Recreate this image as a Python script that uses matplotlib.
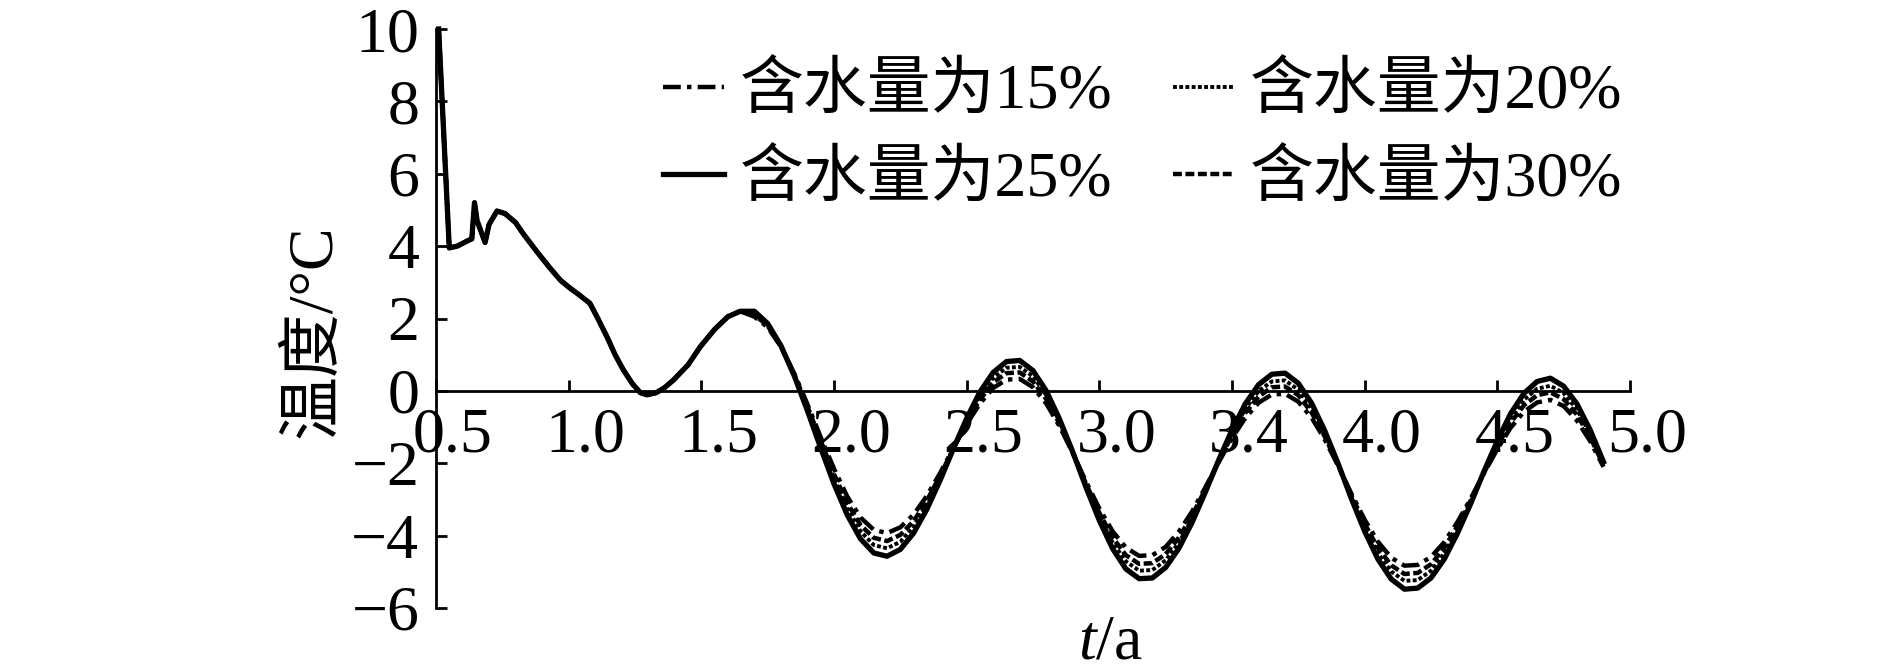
import numpy as np
import matplotlib
matplotlib.use('Agg')
from matplotlib import pyplot as plt
from matplotlib import transforms

plt.rcParams['font.family'] = ['Liberation Serif', 'Noto Sans CJK SC']
plt.rcParams['mathtext.fontset'] = 'custom'
plt.rcParams['mathtext.rm'] = 'Liberation Serif'
plt.rcParams['mathtext.it'] = 'Liberation Serif:italic'

# early part: the four curves coincide
t_early = [0.51, 0.55, 0.58, 0.62, 0.635, 0.645, 0.655, 0.685, 0.70, 0.73, 0.76,
           0.80, 0.83, 0.88, 0.93, 0.97, 1.005, 1.04, 1.08, 1.11, 1.144, 1.175,
           1.206, 1.24, 1.27, 1.295, 1.33, 1.36, 1.395, 1.45, 1.496, 1.55, 1.60, 1.646]
temp_early = [10.0, 3.95, 4.0, 4.15, 4.2, 5.2, 4.7, 4.1, 4.6, 4.97, 4.9,
              4.65, 4.33, 3.85, 3.39, 3.05, 2.84, 2.65, 2.42, 2.0, 1.5, 1.0,
              0.58, 0.2, -0.05, -0.11, -0.05, 0.08, 0.30, 0.72, 1.22, 1.7, 2.05, 2.2]

# later part: the curves separate
t_late = [1.70, 1.75, 1.80, 1.85, 1.90, 1.95, 2.00, 2.05, 2.10, 2.15,
          2.20, 2.25, 2.30, 2.35, 2.40, 2.45, 2.50, 2.55, 2.60, 2.65,
          2.70, 2.75, 2.80, 2.85, 2.90, 2.95, 3.00, 3.05, 3.10, 3.15,
          3.20, 3.25, 3.30, 3.35, 3.40, 3.45, 3.50, 3.55, 3.60, 3.65,
          3.70, 3.75, 3.80, 3.85, 3.90, 3.95, 4.00, 4.05, 4.10, 4.15,
          4.20, 4.25, 4.30, 4.35, 4.40, 4.45, 4.50, 4.55, 4.60, 4.65,
          4.70, 4.75, 4.80, 4.85, 4.90]
temp_15 = [2.05, 1.76, 1.22, 0.48, -0.37, -1.28, -2.15, -2.92, -3.50, -3.84,
           -3.93, -3.77, -3.42, -2.90, -2.27, -1.58, -0.92, -0.35, 0.08, 0.31,
           0.33, 0.10, -0.35, -0.98, -1.72, -2.51, -3.25, -3.88, -4.33, -4.56,
           -4.54, -4.31, -3.89, -3.33, -2.66, -1.97, -1.31, -0.75, -0.33, -0.10,
           -0.08, -0.30, -0.74, -1.35, -2.07, -2.84, -3.56, -4.17, -4.61, -4.83,
           -4.81, -4.59, -4.18, -3.62, -2.97, -2.27, -1.61, -1.02, -0.58, -0.32,
           -0.25, -0.42, -0.82, -1.39, -2.10]
temp_20 = [2.15, 1.83, 1.24, 0.44, -0.49, -1.48, -2.42, -3.25, -3.88, -4.26,
           -4.35, -4.17, -3.75, -3.14, -2.40, -1.59, -0.82, -0.14, 0.36, 0.64,
           0.66, 0.40, -0.12, -0.85, -1.70, -2.61, -3.46, -4.19, -4.71, -4.97,
           -4.95, -4.68, -4.19, -3.53, -2.74, -1.93, -1.16, -0.50, -0.01, 0.26,
           0.29, 0.03, -0.48, -1.19, -2.03, -2.93, -3.77, -4.48, -4.99, -5.25,
           -5.23, -4.97, -4.49, -3.82, -3.06, -2.24, -1.46, -0.77, -0.25, 0.06,
           0.14, -0.06, -0.52, -1.19, -2.01]
temp_25 = [2.20, 1.86, 1.25, 0.42, -0.55, -1.58, -2.57, -3.43, -4.09, -4.48,
           -4.57, -4.38, -3.93, -3.27, -2.47, -1.60, -0.76, -0.03, 0.51, 0.81,
           0.84, 0.56, 0.00, -0.78, -1.69, -2.67, -3.58, -4.36, -4.92, -5.19,
           -5.17, -4.88, -4.35, -3.63, -2.79, -1.91, -1.08, -0.36, 0.17, 0.46,
           0.49, 0.21, -0.34, -1.11, -2.01, -2.98, -3.88, -4.65, -5.20, -5.48,
           -5.45, -5.17, -4.65, -3.93, -3.11, -2.22, -1.38, -0.63, -0.07, 0.26,
           0.35, 0.13, -0.36, -1.08, -1.96]
temp_30 = [2.10, 1.80, 1.23, 0.46, -0.43, -1.38, -2.30, -3.10, -3.71, -4.06,
           -4.15, -3.98, -3.60, -3.03, -2.34, -1.59, -0.86, -0.24, 0.23, 0.49,
           0.51, 0.26, -0.23, -0.91, -1.71, -2.57, -3.37, -4.05, -4.54, -4.78,
           -4.76, -4.51, -4.05, -3.44, -2.71, -1.95, -1.23, -0.61, -0.16, 0.10,
           0.12, -0.12, -0.60, -1.27, -2.05, -2.89, -3.67, -4.34, -4.82, -5.06,
           -5.03, -4.79, -4.34, -3.73, -3.02, -2.26, -1.53, -0.88, -0.40, -0.12,
           -0.04, -0.23, -0.66, -1.28, -2.05]

labels = ['含水量为15%', '含水量为20%', '含水量为25%', '含水量为30%']
x_ticks = [0.5, 1.0, 1.5, 2.0, 2.5, 3.0, 3.5, 4.0, 4.5, 5.0]
x_ticklabels = ['0.5', '1.0', '1.5', '2.0', '2.5', '3.0', '3.4', '4.0', '4.5', '5.0']
y_ticks = [-6, -4, -2, 0, 2, 4, 6, 8, 10]
y_ticklabels = ['\u22126', '\u22124', '\u22122', '0', '2', '4', '6', '8', '10']

fig = plt.figure(figsize=(18.9, 6.7), dpi=100)
ax = fig.add_axes([436 / 1890, 62 / 670, 1194 / 1890, 579 / 670])

styles = [dict(ls=(0, (4, 1.4, 1, 1.4)), lw=3.2),
          dict(ls=(0, (1, 0.6)), lw=2.8),
          dict(ls='-', lw=3.8),
          dict(ls=(0, (2, 0.8)), lw=3.2)]
series = [temp_15, temp_20, temp_25, temp_30]

lines = []
for ys, st, lab in zip(series, styles, labels):
    ln, = ax.plot(t_early + t_late, temp_early + ys, color='black', label=lab,
                  clip_on=False, **st)
    lines.append(ln)

ax.set_xlim(0.5, 5.0)
ax.set_ylim(-6, 10)
ax.spines['top'].set_visible(False)
ax.spines['right'].set_visible(False)
ax.spines['bottom'].set_position(('data', 0))
for sp in ('left', 'bottom'):
    ax.spines[sp].set_linewidth(2.0)

ax.set_xticks(x_ticks)
ax.set_xticklabels(x_ticklabels)
ax.set_yticks(y_ticks)
ax.set_yticklabels(y_ticklabels)
ax.tick_params(direction='in', length=8, width=2.0, labelsize=46)
ax.tick_params(axis='x', pad=12)
ax.tick_params(axis='y', pad=12)

shift = transforms.ScaledTranslation(0.17, 0, fig.dpi_scale_trans)
for lbl in ax.get_xticklabels():
    lbl.set_transform(lbl.get_transform() + shift)

ax.set_ylabel('温度/°C', fontsize=46)
ax.yaxis.set_label_coords(-0.077, 0.478)
ax.text(0.5645, -0.061, '$t$/a', transform=ax.transAxes, fontsize=46,
        ha='center', va='center')

# legend rows: 15% 20% / 25% 30%
order = [0, 2, 1, 3]
ax.legend([lines[i] for i in order], [labels[i] for i in order],
          ncol=2, frameon=False, fontsize=46, loc='upper left',
          bbox_to_anchor=(663 / 1890, 606 / 670),
          bbox_transform=fig.transFigure, borderpad=0, borderaxespad=0,
          handlelength=0.95, handletextpad=0.25, columnspacing=0.95,
          labelspacing=0.45)

plt.savefig('out.png', dpi=100)
